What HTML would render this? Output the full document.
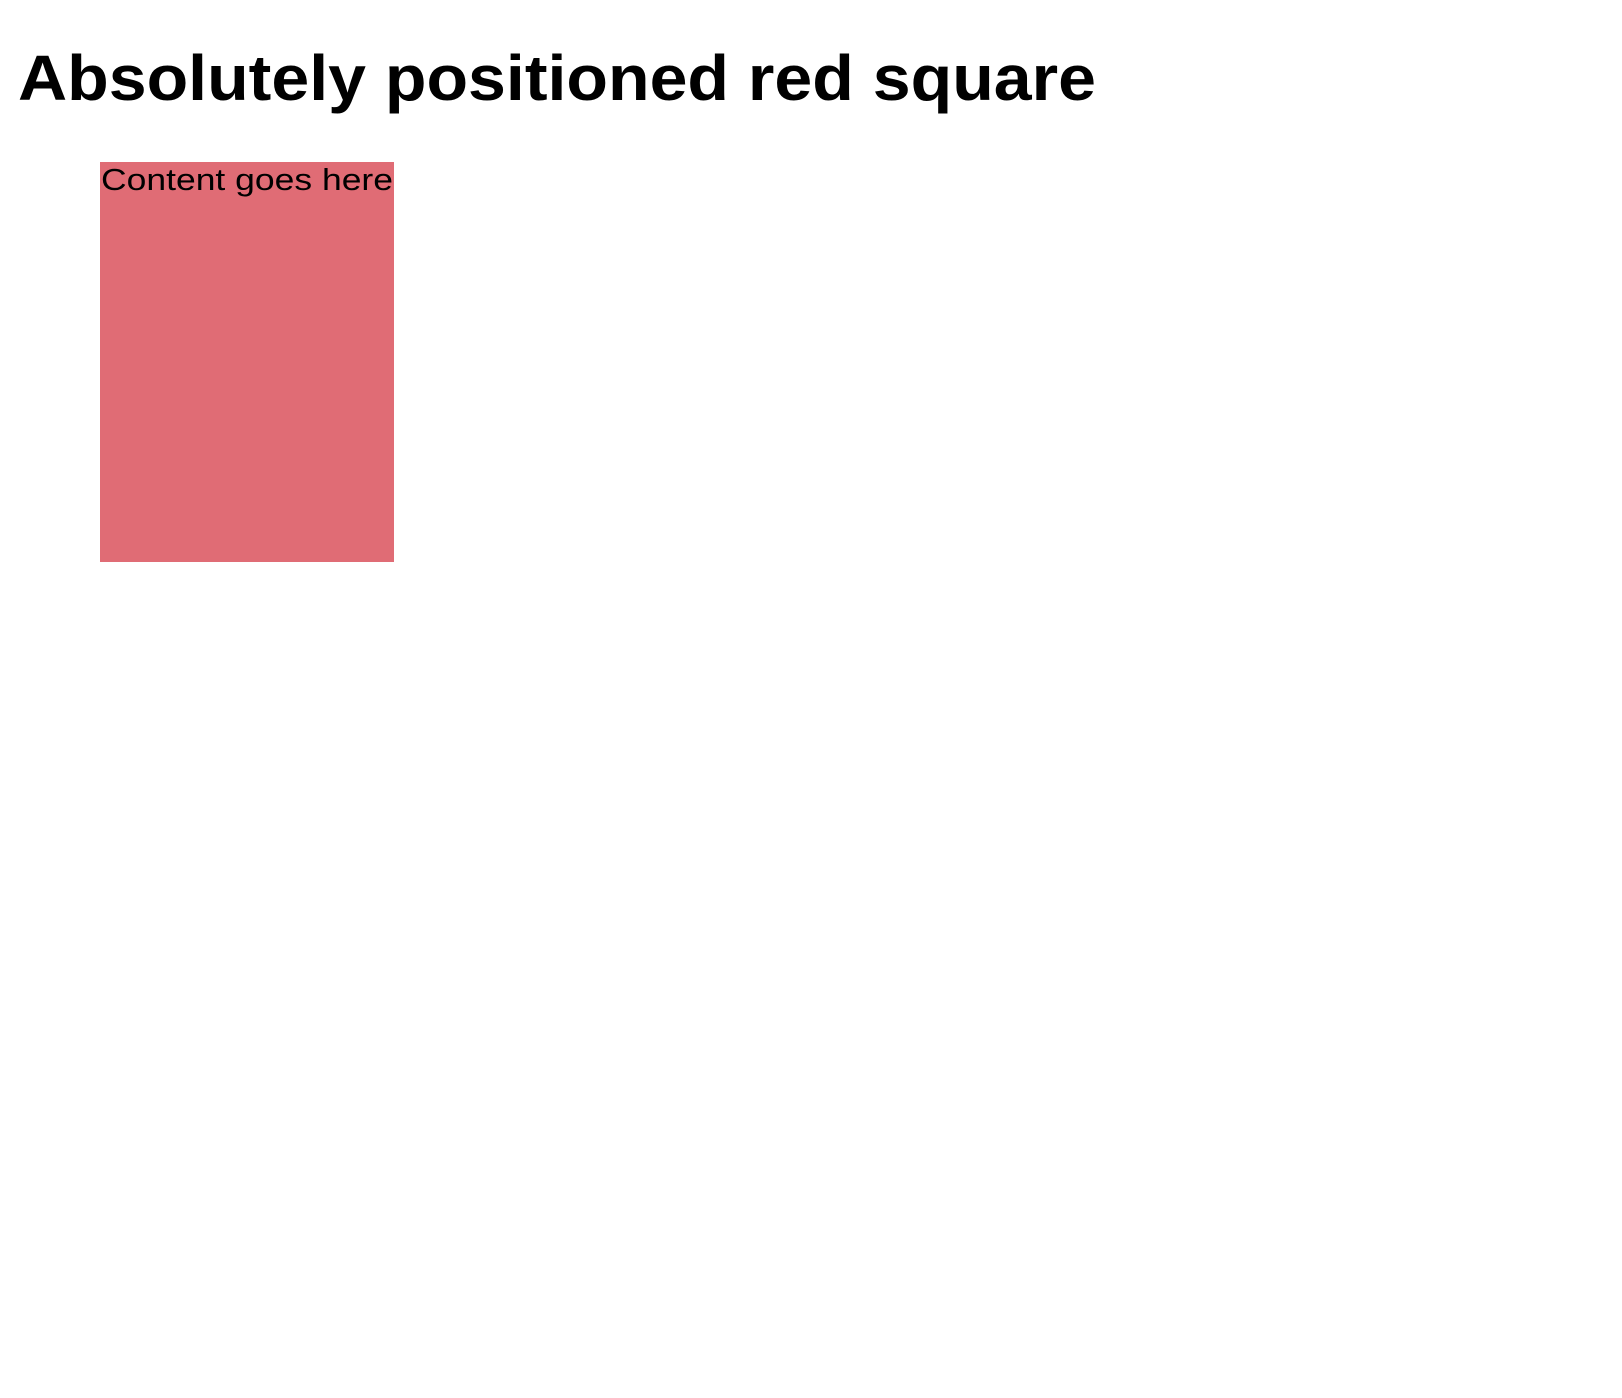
<!DOCTYPE html>
<html><head><meta charset="utf-8"><style>
html,body{margin:0;padding:0;background:#fff;width:1622px;height:1398px;overflow:hidden;}
svg{position:absolute;left:0;top:0;}
</style></head><body>
<svg width="1622" height="1398">
<text x="18" y="100" font-family="Liberation Sans, sans-serif" font-weight="bold" font-size="64" textLength="1078" lengthAdjust="spacingAndGlyphs" fill="#000">Absolutely positioned red square</text>
<rect x="100" y="162" width="294" height="400" fill="#e06c75"/>
<text x="101" y="190" font-family="Liberation Sans, sans-serif" font-size="31" textLength="292" lengthAdjust="spacingAndGlyphs" fill="#000">Content goes here</text>
</svg>
</body></html>
